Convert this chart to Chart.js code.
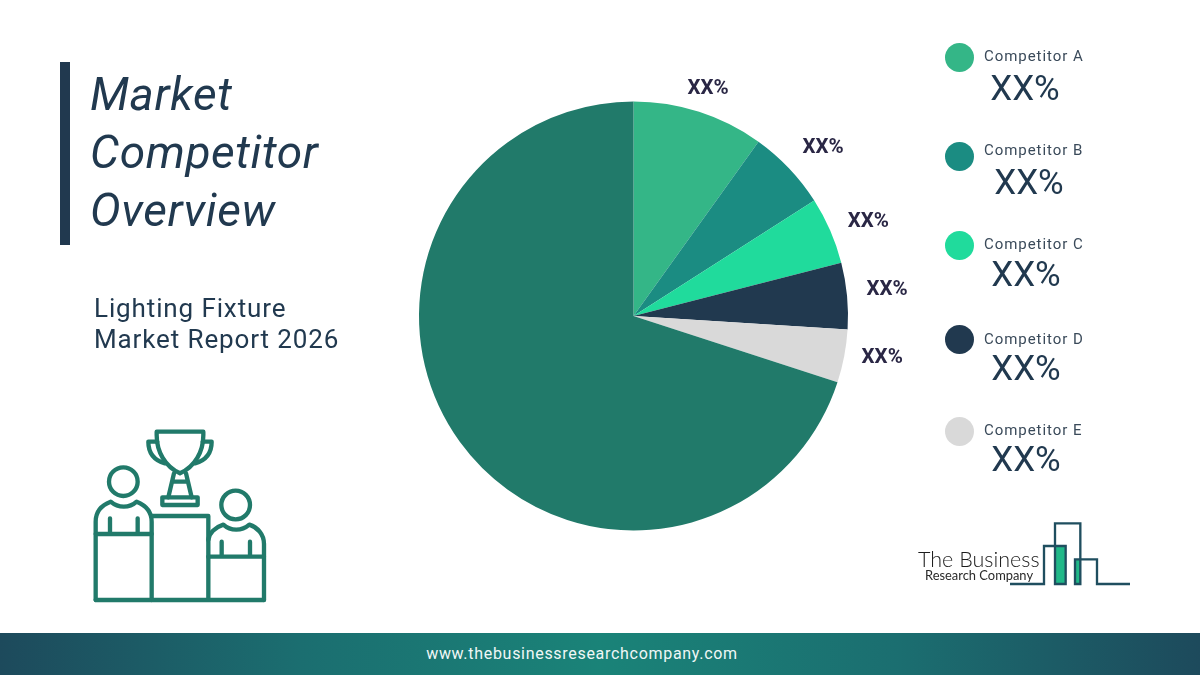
<!DOCTYPE html>
<html>
<head>
<meta charset="utf-8">
<title>Market Competitor Overview</title>
<script src="https://cdn.jsdelivr.net/npm/chart.js@4"></script>
<style>
  html, body { margin: 0; padding: 0; background: #fff; }
  #page { position: relative; width: 1200px; height: 675px; overflow: hidden; font-family: Roboto, sans-serif; color: #21394f; }
  #page > * { position: absolute; }
  #pie { left: 0; top: 0; width: 1200px; height: 675px; }
  .bar { left: 60px; top: 62px; width: 10px; height: 183px; background: #21394f; }
  .title { left: 90px; font-style: italic; font-size: 46px; line-height: 58px; letter-spacing: 0.6px; white-space: nowrap; }
  .sub { left: 94px; font-size: 26px; line-height: 31px; letter-spacing: 0.88px; white-space: nowrap; }
  .dot { width: 29px; height: 29px; border-radius: 50%; left: 945px; }
  .name { left: 984px; font-size: 15px; line-height: 20px; letter-spacing: 0.95px; color: #3a4a5a; white-space: nowrap; }
  .val { font-size: 35px; line-height: 40px; font-weight: 400; width: 100px; text-align: center; white-space: nowrap; }
  .footer { left: 0; top: 633px; width: 1200px; height: 42px; background: linear-gradient(to right, #1d4a5c 0%, #1b6e70 25%, #1a8378 50%, #1b6e70 75%, #1d4a5c 100%); }
  .url { left: 0; top: 634px; width: 1164px; height: 42px; line-height: 40px; text-align: center; color: #f0f7f6; font-size: 16px; letter-spacing: 0.7px; }
  .logo1 { left: 918px; top: 546px; font-family: Lato, sans-serif; font-weight: 300; font-size: 21.5px; line-height: 26px; color: #1c1c1c; white-space: nowrap; }
  .logo2 { left: 925px; top: 568px; font-family: Lato, sans-serif; font-size: 12.9px; line-height: 14px; color: #2a2a2a; white-space: nowrap; }
</style>
</head>
<body>
<div id="page">
  <canvas id="pie" width="1200" height="675"></canvas>

  <div class="bar"></div>
  <div class="title" style="top:65px">Market</div>
  <div class="title" style="top:123px">Competitor</div>
  <div class="title" style="top:181px">Overview</div>
  <div class="sub" style="top:293px">Lighting Fixture</div>
  <div class="sub" style="top:324px">Market Report 2026</div>

  <!-- podium icon -->
  <svg style="left:60px;top:410px" width="230" height="210" viewBox="0 0 690 630" fill="none" stroke="#217a6a" stroke-width="13" stroke-linejoin="round" stroke-linecap="round">
    <circle cx="190" cy="215" r="43"/>
    <path d="M107 570V335C107 305 125 285 152 275C175 295 208 295 230 275C255 285 275 305 275 335V570"/>
    <path d="M107 372H275M150 325V372M233 325V372"/>
    <path d="M275 318H445V570M107 570H612"/>
    <circle cx="527" cy="285" r="43"/>
    <path d="M445 390C447 370 465 352 490 344C512 364 545 364 568 344C592 352 612 372 612 402V570"/>
    <path d="M445 440H612M485 395V440M570 395V440"/>
    <path d="M290 65H430V75C430 125 405 170 360 190C315 170 290 125 290 75Z"/>
    <path d="M292 95H265C265 125 280 150 315 160M428 95H455C455 125 440 150 405 160"/>
    <path d="M342 190L336 215H384L378 190M336 215L325 262M384 215L395 262"/>
    <path d="M307 262H413V285H307Z"/>
  </svg>

  <!-- logo -->
  <svg style="left:900px;top:510px" width="250" height="90" viewBox="0 0 750 270" fill="none">
    <path d="M468 110H497V222H468ZM527 148H541V222H527Z" fill="#20b888"/>
    <path d="M330 222H432V108H497V222H465V40H541V222H525V148H591V222H690" stroke="#1f4e5f" stroke-width="7"/>
  </svg>
  <div class="logo1">The Business</div>
  <div class="logo2">Research Company</div>

  <div class="footer"></div>
  <div class="url">www.thebusinessresearchcompany.com</div>
</div>

<script>
  // values (share of the circle, clockwise from 12 o'clock)
  const categories = ['Competitor A', 'Competitor B', 'Competitor C', 'Competitor D', 'Competitor E', 'Others'];
  const shares = [9.9, 6.05, 5.05, 5, 4, 70];
  const pctLabels = ['XX%', 'XX%', 'XX%', 'XX%', 'XX%'];
  const sliceColors = ['#34b687', '#1b8c82', '#20db9c', '#21394f', '#d9d9d9', '#217a6a'];

  // legend placement
  const dotTops = [43, 142, 231, 325, 417];
  const nameTops = [46, 140, 234, 329, 420];
  const valTops = [69, 163, 255, 349, 440];
  const valLefts = [975, 979, 976, 976, 976];
  // outside label nudge from the slice's edge point
  const labelDx = [9, 34, 38, 40, 38];
  const labelDy = [-22.5, -21, -8.5, -5.5, 2];

  const page = document.getElementById('page');
  function addDiv(cls, text, style) {
    const d = document.createElement('div');
    d.className = cls;
    d.textContent = text;
    Object.assign(d.style, style);
    page.appendChild(d);
  }
  pctLabels.forEach((txt, i) => {
    addDiv('dot', '', { top: dotTops[i] + 'px', background: sliceColors[i] });
    addDiv('name', categories[i], { top: nameTops[i] + 'px' });
    addDiv('val', txt, { top: valTops[i] + 'px', left: valLefts[i] + 'px' });
  });

  // XX% labels just outside the slices
  const outsideLabels = {
    id: 'outsideLabels',
    afterDatasetsDraw(chart) {
      const { ctx } = chart;
      const arcs = chart.getDatasetMeta(0).data;
      ctx.save();
      ctx.font = "bold 20.5px Roboto, sans-serif";
      ctx.fillStyle = '#2a2745';
      ctx.textAlign = 'center';
      ctx.textBaseline = 'middle';
      pctLabels.forEach((txt, i) => {
        const a = arcs[i];
        const mid = (a.startAngle + a.endAngle) / 2;
        const x = a.x + Math.cos(mid) * a.outerRadius + labelDx[i];
        const y = a.y + Math.sin(mid) * a.outerRadius + labelDy[i];
        ctx.fillText(txt, x, y);
      });
      ctx.restore();
    }
  };

  new Chart(document.getElementById('pie'), {
    type: 'pie',
    data: {
      labels: categories,
      datasets: [{
        data: shares,
        backgroundColor: sliceColors,
        borderWidth: 0
      }]
    },
    options: {
      responsive: false,
      animation: false,
      layout: { padding: { left: 419, right: 352, top: 101, bottom: 144 } },
      plugins: {
        legend: { display: false },
        tooltip: { enabled: false }
      }
    },
    plugins: [outsideLabels]
  });
</script>
</body>
</html>
